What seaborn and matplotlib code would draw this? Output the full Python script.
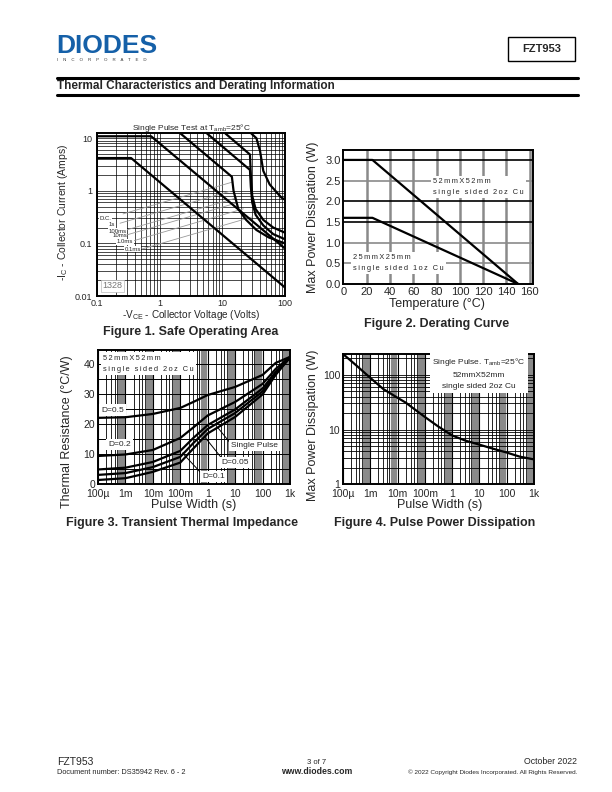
import numpy as np
import pandas as pd
import seaborn as sns
import matplotlib.pyplot as plt
from matplotlib.patches import Rectangle

sns.set_style("white")
plt.rcParams['font.family'] = ['Liberation Sans', 'DejaVu Sans']
plt.rcParams['mathtext.default'] = 'regular'

# ---------------- data ----------------
# Figure 1: safe operating area, (V, I) break points per curve
soa_names = ["D.C.", "1s", "100ms", "10ms", "1.0ms", "0.1ms"]
dc_v = [0.1, 0.35, 100]
dc_i = [4.2, 4.2, 0.0145]
s1_v = [0.1, 0.73, 100]
s1_i = [10.9, 10.9, 0.08]
ms100_v = [2.15, 14.2, 15.1, 18, 24, 35, 55, 100]
ms100_i = [12.3, 1.85, 1.0, 0.45, 0.28, 0.18, 0.13, 0.10]
ms10_v = [5.7, 27.6, 28.5, 30, 34, 45, 65, 100]
ms10_i = [12.3, 2.5, 1.2, 0.6, 0.35, 0.22, 0.15, 0.12]
ms1_v = [11.2, 27.6, 28.5, 30, 34, 45, 65, 100]
ms1_i = [12.3, 4.9, 2.0, 0.8, 0.45, 0.28, 0.2, 0.16]
ms01_v = [29, 35, 40, 45, 57, 88, 100]
ms01_i = [12.3, 10, 5.7, 2.4, 1.32, 0.74, 0.68]
soa_lab_v = [0.135, 0.175, 0.21, 0.23, 0.28, 0.37]
soa_lab_i = [0.30, 0.23, 0.17, 0.14, 0.108, 0.077]
lead_v = [0.26, 0.233, 0.298, 0.298, 0.38, 0.527]
lead_i = [0.364, 0.242, 0.181, 0.145, 0.112, 0.0785]

# Figure 2: derating curve
temp = [0, 25, 150]
p_52 = [3.0, 3.0, 0.0]
p_25 = [1.6, 1.6, 0.0]

# Figure 3: transient thermal impedance
t3 = [1e-4, 1e-3, 1e-2, 0.1, 0.3, 1, 10, 100, 300, 1000]
r_d05 = [22.2, 22.4, 23.5, 25.5, 27.5, 29.8, 32.5, 36.5, 40.5, 42.5]
r_d02 = [9.5, 10.0, 11.5, 15.5, 19.0, 23.0, 27.5, 33.5, 38.5, 42.5]
r_d01 = [5.0, 5.6, 7.5, 11.2, 15.5, 19.8, 25.0, 32.0, 37.5, 42.3]
r_d005 = [3.2, 3.8, 5.8, 9.2, 13.8, 18.5, 23.8, 31.0, 37.0, 42.3]
r_single = [1.5, 2.1, 4.2, 7.3, 12.0, 17.0, 22.5, 30.0, 36.5, 42.3]

# Figure 4: pulse power dissipation
t4 = [1e-4, 3e-4, 1e-3, 3e-3, 1e-2, 2e-2, 5e-2, 0.1, 0.3, 1, 3, 10, 30, 100, 300, 1000]
p4 = [240, 150, 88, 55, 38, 31, 22, 17, 11.5, 7.8, 6.3, 5.3, 4.5, 3.8, 3.2, 2.85]

log_ticks = [1e-4, 1e-3, 1e-2, 1e-1, 1, 10, 100, 1000]
log_labels = ["100\u00b5", "1m", "10m", "100m", "1", "10", "100", "1k"]

# ---------------- layout helpers ----------------
W, H = 612, 792
fig = plt.figure(figsize=(W / 100, H / 100), dpi=100)


def box(l, t, r, b):
    return [l / W, 1 - b / H, (r - l) / W, (b - t) / H]


def at(x, y):
    return x / W, 1 - y / H


def spaced(s):
    # letter-spaced label text, like the board size notes in the datasheet
    return "\u2009 \u2009".join("\u2009".join(w) for w in s.split(" "))


def frame(ax, xpad=3.5, ypad=2):
    for sp in ax.spines.values():
        sp.set_visible(True)
        sp.set_color("black")
        sp.set_linewidth(1.4)
    ax.tick_params(length=0)
    ax.tick_params(axis="x", pad=xpad)
    ax.tick_params(axis="y", pad=ypad)


def log_vgrid(ax, lo, hi):
    for d in range(lo, hi):
        for k in range(1, 10):
            x = k * 10.0 ** d
            if k == 1:
                ax.axvline(x, color="black", lw=0.8, zorder=0)
            elif k <= 5:
                ax.axvline(x, color="black", lw=0.6, zorder=0)
            else:
                ax.axvline(x, color="#8a8a8a", lw=1.6, zorder=0)


curve = dict(color="black", lw=1.6, sort=False, estimator=None, zorder=4)
white = dict(facecolor="white", edgecolor="none", pad=1.5)

# ---------------- header ----------------
fig.text(*at(56, 46), "DIODES", fontsize=19, fontweight="bold", color="#1560a8",
         ha="left", va="center")
fig.add_artist(plt.Line2D([56 / W, 160 / W], [1 - 46 / H, 1 - 46 / H], color="white", lw=0.8))
fig.text(*at(57, 60), "    ".join("INCORPORATED"), fontsize=3.2, color="#333333",
         ha="left", va="center")
fig.add_artist(Rectangle(at(508, 61), 67 / W, 24 / H, transform=fig.transFigure,
                         fill=False, ec="black", lw=1))
fig.text(*at(541.5, 49), "FZT953", fontsize=8, fontweight="bold", ha="center", va="center")
for yy in (78, 95):
    fig.add_artist(plt.Line2D([57 / W, 578 / W], [1 - yy / H, 1 - yy / H], color="black", lw=2.2))
fig.text(*at(57, 86.5), "Thermal Characteristics and Derating Information", fontsize=8.5,
         fontweight="bold", ha="left", va="center")

# ---------------- Figure 1 ----------------
ax1 = fig.add_axes(box(97, 133.5, 285, 296))
ax1.set_xscale("log")
ax1.set_yscale("log")
ax1.set_xlim(0.1, 100)
ax1.set_ylim(0.01, 12.3)
for d in range(-1, 2):
    for k in range(1, 10):
        ax1.axvline(k * 10.0 ** d, color="black", lw=0.5, zorder=0)
for d in range(-2, 2):
    for k in range(1, 10):
        ax1.axhline(k * 10.0 ** d, color="black", lw=0.5, zorder=0)
for v0, i0 in zip(lead_v, lead_i):
    ax1.plot([v0, v0 * 57], [i0, i0 * 4.06], color="#9a9a9a", lw=0.6, zorder=1)
for vv, ii in [(dc_v, dc_i), (s1_v, s1_i), (ms100_v, ms100_i), (ms10_v, ms10_i),
               (ms1_v, ms1_i), (ms01_v, ms01_i)]:
    sns.lineplot(x=vv, y=ii, ax=ax1, **curve)
for name, vv, ii in zip(soa_names, soa_lab_v, soa_lab_i):
    ax1.text(vv, ii, name, fontsize=4.3, ha="center", va="center",
             bbox=dict(facecolor="white", edgecolor="none", pad=0.3))
ax1.text(0.03, 0.035, "1328", transform=ax1.transAxes, fontsize=6.5, color="#777777",
         ha="left", va="bottom", bbox=dict(facecolor="white", edgecolor="#bbbbbb", lw=0.5, pad=1))
ax1.set_xticks([0.1, 1, 10, 100], ["0.1", "1", "10", "100"])
ax1.set_yticks([0.01, 0.1, 1, 10], ["0.01", "0.1", "1", "10"])
ax1.minorticks_off()
ax1.tick_params(labelsize=6.5)
frame(ax1, xpad=2.5, ypad=3.5)
fig.text(*at(191, 127.5), "Single Pulse Test at T$_{amb}$=25\u00b0C", fontsize=6, ha="center", va="center")
fig.text(*at(63, 212), "-I$_C$ - Collector Current (Amps)", fontsize=7.5, rotation=90,
         ha="center", va="center")
fig.text(*at(191, 315.5), "-V$_{CE}$ - Collector Voltage (Volts)", fontsize=7.2, ha="center", va="center")
fig.text(*at(191, 332), "Figure 1. Safe Operating Area", fontsize=9, fontweight="bold",
         ha="center", va="center")

# ---------------- Figure 2 ----------------
ax2 = fig.add_axes(box(343.3, 150, 533.3, 284))
ax2.set_xlim(0, 163)
ax2.set_ylim(0, 3.24)
for x in range(20, 161, 20):
    ax2.axvline(x, color="#8a8a8a", lw=1.8, zorder=0)
for y, c in [(0.5, "#8a8a8a"), (1.0, "#8a8a8a"), (1.5, "black"), (2.0, "black"),
             (2.5, "#8a8a8a"), (3.0, "black")]:
    ax2.axhline(y, color=c, lw=1.2, zorder=0)
sns.lineplot(x=temp, y=p_52, ax=ax2, **curve)
sns.lineplot(x=temp, y=p_25, ax=ax2, **curve)
ax2.text(77, 2.35, spaced("52mmX52mm") + "\n" + spaced("single sided 2oz Cu"), fontsize=5.3,
         ha="left", va="center", linespacing=1.8, bbox=white, zorder=2)
ax2.text(8.5, 0.5, spaced("25mmX25mm") + "\n" + spaced("single sided 1oz Cu"), fontsize=5.3,
         ha="left", va="center", linespacing=1.8, bbox=white, zorder=2)
ax2.set_xticks(range(0, 161, 20))
ax2.set_yticks([0, 0.5, 1.0, 1.5, 2.0, 2.5, 3.0], ["0.0", "0.5", "1.0", "1.5", "2.0", "2.5", "3.0"])
ax2.tick_params(labelsize=8)
frame(ax2, xpad=2)
fig.text(*at(313, 217), "Max Power Dissipation (W)", fontsize=9, rotation=90, ha="center", va="center")
fig.text(*at(437, 304), "Temperature (\u00b0C)", fontsize=9, ha="center", va="center")
fig.text(*at(437, 324), "Figure 2. Derating Curve", fontsize=9, fontweight="bold",
         ha="center", va="center")

# ---------------- Figure 3 ----------------
ax3 = fig.add_axes(box(98, 350, 290, 484.5))
ax3.set_xscale("log")
ax3.set_xlim(1e-4, 1e3)
ax3.set_ylim(0, 44.8)
log_vgrid(ax3, -4, 3)
for y in range(5, 45, 5):
    ax3.axhline(y, color="black", lw=0.7, zorder=0)
for rr in (r_d05, r_d02, r_d01, r_d005, r_single):
    sns.lineplot(x=t3, y=rr, ax=ax3, **curve)
ax3.plot([0.55, 0.12], [4.0, 10.5], color="black", lw=0.7, zorder=3)
ax3.plot([3.7, 0.8], [8.1, 15.7], color="black", lw=0.7, zorder=3)
ax3.plot([7.4, 2.3], [13.3, 19.0], color="black", lw=0.7, zorder=3)
ax3.text(1.5e-4, 43.3, spaced("52mmX52mm") + "\n" + spaced("single sided 2oz Cu"), fontsize=5.3,
         ha="left", va="top", linespacing=1.8, bbox=white, zorder=2)
ax3.text(1.35e-4, 24.8, "D=0.5", fontsize=6, ha="left", va="center", bbox=white, zorder=2)
ax3.text(2.4e-4, 13.3, "D=0.2", fontsize=6, ha="left", va="center", bbox=white, zorder=2)
ax3.text(49, 13.1, "Single Pulse", fontsize=6, ha="center", va="center", bbox=white, zorder=5)
ax3.text(10, 7.3, "D=0.05", fontsize=6, ha="center", va="center", bbox=white, zorder=5)
ax3.text(1.66, 2.8, "D=0.1", fontsize=6, ha="center", va="center", bbox=white, zorder=5)
ax3.set_xticks(log_ticks, log_labels)
ax3.set_yticks([0, 10, 20, 30, 40])
ax3.minorticks_off()
ax3.tick_params(labelsize=7.5)
frame(ax3)
fig.text(*at(67, 432), "Thermal Resistance (\u00b0C/W)", fontsize=9, rotation=90, ha="center", va="center")
fig.text(*at(194, 505), "Pulse Width (s)", fontsize=9, ha="center", va="center")
fig.text(*at(182, 523), "Figure 3. Transient Thermal Impedance", fontsize=9, fontweight="bold",
         ha="center", va="center")

# ---------------- Figure 4 ----------------
ax4 = fig.add_axes(box(343, 354, 534, 484.3))
ax4.set_xscale("log")
ax4.set_yscale("log")
ax4.set_xlim(1e-4, 1e3)
ax4.set_ylim(1, 240)
log_vgrid(ax4, -4, 3)
for d in range(0, 3):
    for k in range(1, 10):
        ax4.axhline(k * 10.0 ** d, color="black", lw=0.6, zorder=0)
sns.lineplot(x=t4, y=p4, ax=ax4, **curve)
ax4.text(9.6, 222, "Single Pulse. T$_{amb}$=25\u00b0C\n52mmX52mm\nsingle sided 2oz Cu", fontsize=6,
         ha="center", va="top", linespacing=1.8, bbox=dict(facecolor="white", edgecolor="none", pad=2))
ax4.set_xticks(log_ticks, log_labels)
ax4.set_yticks([1, 10, 100], ["1", "10", "100"])
ax4.minorticks_off()
ax4.tick_params(labelsize=7.5)
frame(ax4)
fig.text(*at(313, 425), "Max Power Dissipation (W)", fontsize=9, rotation=90, ha="center", va="center")
fig.text(*at(440, 505), "Pulse Width (s)", fontsize=9, ha="center", va="center")
fig.text(*at(435, 523), "Figure 4. Pulse Power Dissipation", fontsize=9, fontweight="bold",
         ha="center", va="center")

# ---------------- footer ----------------
fig.text(*at(57, 762), "FZT953", fontsize=7.5, ha="left", va="center")
fig.text(*at(57, 772), "Document number: DS35942 Rev. 6 - 2", fontsize=5.3, ha="left", va="center")
fig.text(*at(317, 762), "3 of 7", fontsize=5.5, ha="center", va="center")
fig.text(*at(317, 772), "www.diodes.com", fontsize=6.3, fontweight="bold", ha="center", va="center")
fig.text(*at(577, 762), "October 2022", fontsize=6.3, ha="right", va="center")
fig.text(*at(577, 772), "\u00a9 2022 Copyright Diodes Incorporated. All Rights Reserved.", fontsize=4.6,
         ha="right", va="center")

fig.savefig("out.png", dpi=100)
